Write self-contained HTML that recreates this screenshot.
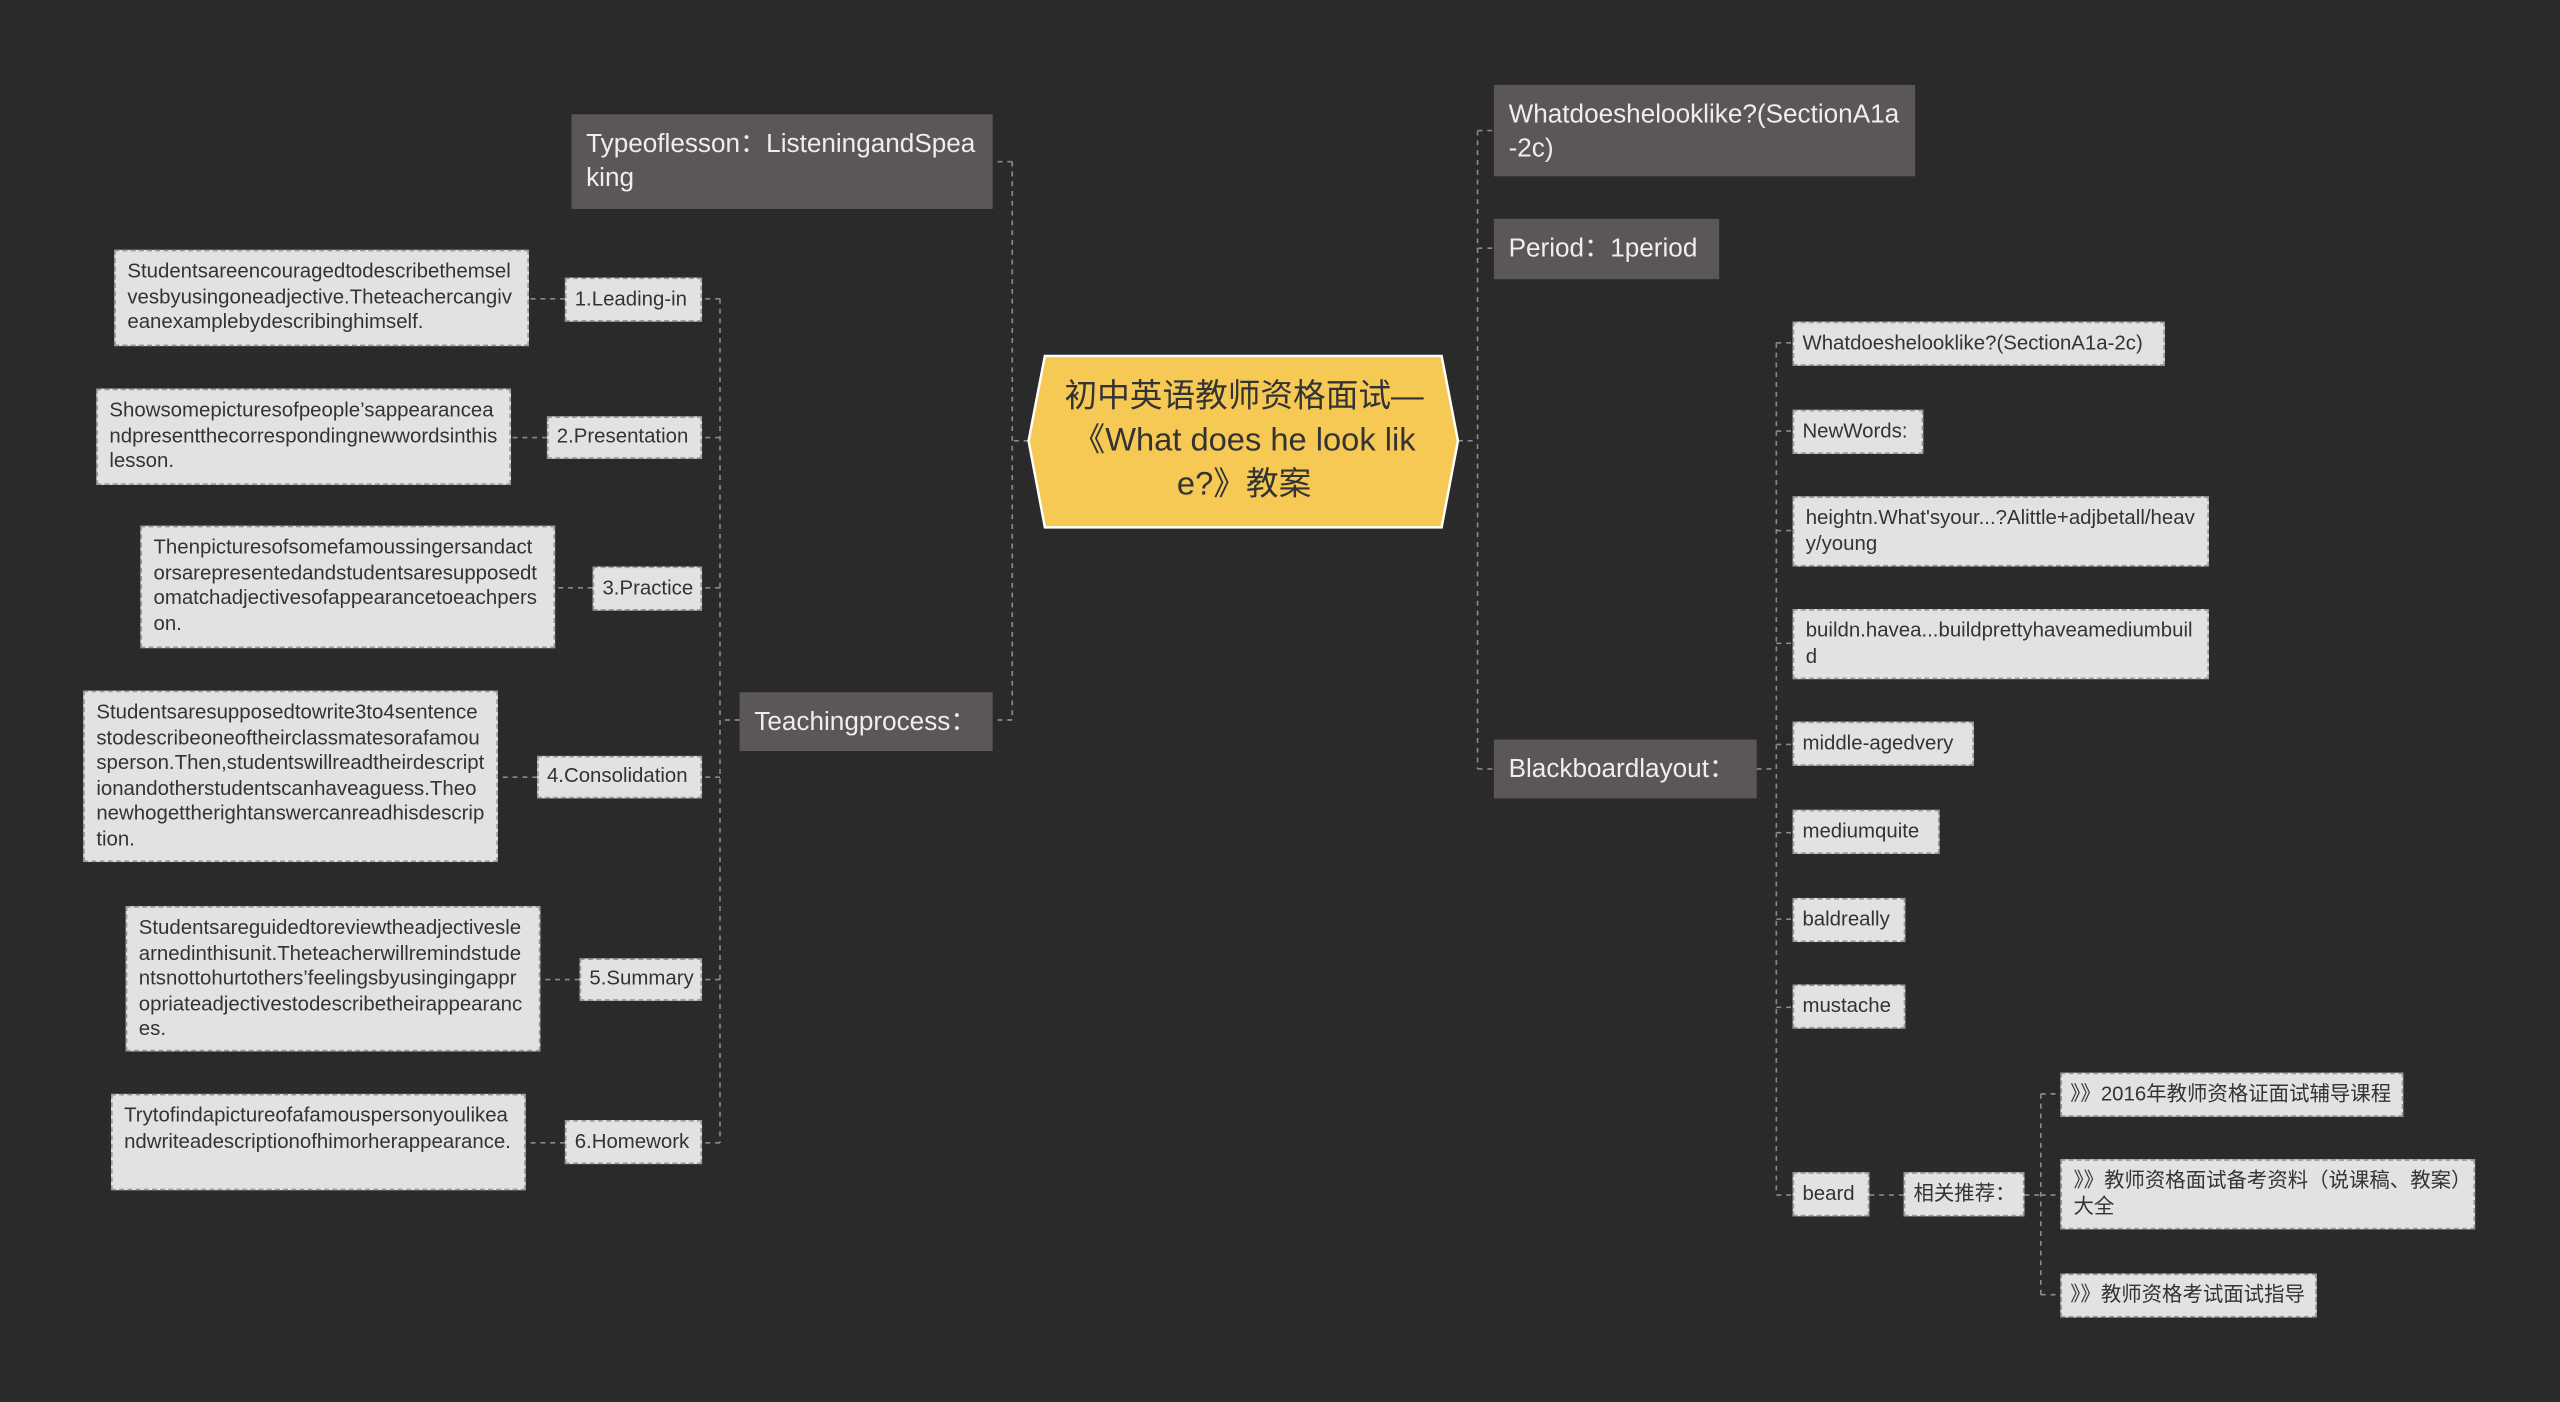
<!DOCTYPE html>
<html><head><meta charset="utf-8"><style>
html,body{margin:0;padding:0;background:#2a2a2a;overflow:hidden;width:2560px;height:1402px}
#w{position:absolute;left:0;top:0;width:1568px;height:859px;transform:scale(1.63265);transform-origin:0 0;font-family:"Liberation Sans","Noto Sans CJK SC",sans-serif}
.n{position:absolute;box-sizing:border-box}
.d{background:#5b5756;color:#eee;font-size:16px;line-height:21px;padding:8px 9px}
.l{background:#e2e2e2;color:#333;font-size:12.5px;line-height:15.6px;padding:5px 7px;border:1px dashed #999;word-break:break-all}
.s{display:flex;align-items:center;white-space:nowrap;padding:0 5px;overflow:visible}
.d.s{padding:0 9px}
svg{position:absolute;left:0;top:0}
</style></head><body><div id="w">
<svg width="1568" height="859" fill="none" stroke="#8a8a8a" stroke-width="1" stroke-dasharray="3,3">
<path d="M630 270H620M620 99V441M620 99H608M620 441H608"/>
<path d="M453 441H441M441 183V700M441 183H430M441 268H430M441 360H430M441 476H430M441 600H430M441 700H430"/>
<path d="M346 183H324M335 268H313M363 360H340M329 476H305M355 600H331M346 700H322"/>
<path d="M893 270H905M905 80V471M905 80H915M905 152H915M905 471H915"/>
<path d="M1076 471H1088M1088 210V732M1088 210H1098M1088 264H1098M1088 325H1098M1088 394H1098M1088 456H1098M1088 510H1098M1088 563H1098M1088 617H1098M1088 732H1098"/>
<path d="M1145 732H1166M1240 732H1250M1250 670V793M1250 670H1262M1250 732H1262M1250 793H1262"/>
</svg>
<svg width="1568" height="859"><polygon points="640,218 883,218 893,270 883,323 640,323 630,270" fill="#f6c955" stroke="#fff" stroke-width="1.5"/></svg>
<div class="n" style="left:646px;top:218px;width:232px;height:105px;display:flex;align-items:center;justify-content:center;text-align:center;color:#333;font-size:20px;line-height:27px;word-break:break-all">初中英语教师资格面试—《What does he look like?》教案</div>

<div class="n d" style="left:350px;top:70px;width:258px;height:58px;word-break:break-all">Typeoflesson：ListeningandSpeaking</div>
<div class="n d s" style="left:453px;top:424px;width:155px;height:36px">Teachingprocess：</div>
<div class="n d" style="left:915px;top:52px;width:258px;height:56px;word-break:break-all">Whatdoeshelooklike?(SectionA1a-2c)</div>
<div class="n d s" style="left:915px;top:134px;width:138px;height:37px">Period：1period</div>
<div class="n d s" style="left:915px;top:453px;width:161px;height:36px">Blackboardlayout：</div>

<div class="n l s" style="left:346px;top:170px;width:84px;height:27px">1.Leading-in</div>
<div class="n l s" style="left:335px;top:255px;width:95px;height:26px">2.Presentation</div>
<div class="n l s" style="left:363px;top:347px;width:67px;height:27px">3.Practice</div>
<div class="n l s" style="left:329px;top:463px;width:101px;height:26px">4.Consolidation</div>
<div class="n l s" style="left:355px;top:587px;width:75px;height:26px">5.Summary</div>
<div class="n l s" style="left:346px;top:686px;width:84px;height:27px">6.Homework</div>

<div class="n l" style="left:70px;top:153px;width:254px;height:59px">Studentsareencouragedtodescribethemselvesbyusingoneadjective.Theteachercangiveanexamplebydescribinghimself.</div>
<div class="n l" style="left:59px;top:238px;width:254px;height:59px">Showsomepicturesofpeople’sappearanceandpresentthecorrespondingnewwordsinthislesson.</div>
<div class="n l" style="left:86px;top:322px;width:254px;height:75px">Thenpicturesofsomefamoussingersandactorsarepresentedandstudentsaresupposedtomatchadjectivesofappearancetoeachperson.</div>
<div class="n l" style="left:51px;top:423px;width:254px;height:105px">Studentsaresupposedtowrite3to4sentencestodescribeoneoftheirclassmatesorafamousperson.Then,studentswillreadtheirdescriptionandotherstudentscanhaveaguess.Theonewhogettherightanswercanreadhisdescription.</div>
<div class="n l" style="left:77px;top:555px;width:254px;height:89px">Studentsareguidedtoreviewtheadjectiveslearnedinthisunit.Theteacherwillremindstudentsnottohurtothers’feelingsbyusingingappropriateadjectivestodescribetheirappearances.</div>
<div class="n l" style="left:68px;top:670px;width:254px;height:59px">Trytofindapictureofafamouspersonyoulikeandwriteadescriptionofhimorherappearance.</div>

<div class="n l s" style="left:1098px;top:197px;width:228px;height:27px">Whatdoeshelooklike?(SectionA1a-2c)</div>
<div class="n l s" style="left:1098px;top:251px;width:80px;height:27px">NewWords:</div>
<div class="n l" style="left:1098px;top:304px;width:255px;height:43px">heightn.What'syour...?Alittle+adjbetall/heavy/young</div>
<div class="n l" style="left:1098px;top:373px;width:255px;height:43px">buildn.havea...buildprettyhaveamediumbuild</div>
<div class="n l s" style="left:1098px;top:442px;width:111px;height:27px">middle-agedvery</div>
<div class="n l s" style="left:1098px;top:496px;width:90px;height:27px">mediumquite</div>
<div class="n l s" style="left:1098px;top:550px;width:69px;height:27px">baldreally</div>
<div class="n l s" style="left:1098px;top:603px;width:69px;height:27px">mustache</div>
<div class="n l s" style="left:1098px;top:718px;width:47px;height:27px">beard</div>
<div class="n l s" style="left:1166px;top:718px;width:74px;height:27px">相关推荐：</div>
<div class="n l s" style="left:1262px;top:657px;width:210px;height:27px">》》2016年教师资格证面试辅导课程</div>
<div class="n l" style="left:1262px;top:710px;width:254px;height:43px">》》教师资格面试备考资料（说课稿、教案）大全</div>
<div class="n l s" style="left:1262px;top:780px;width:157px;height:27px">》》教师资格考试面试指导</div>
</div></body></html>
